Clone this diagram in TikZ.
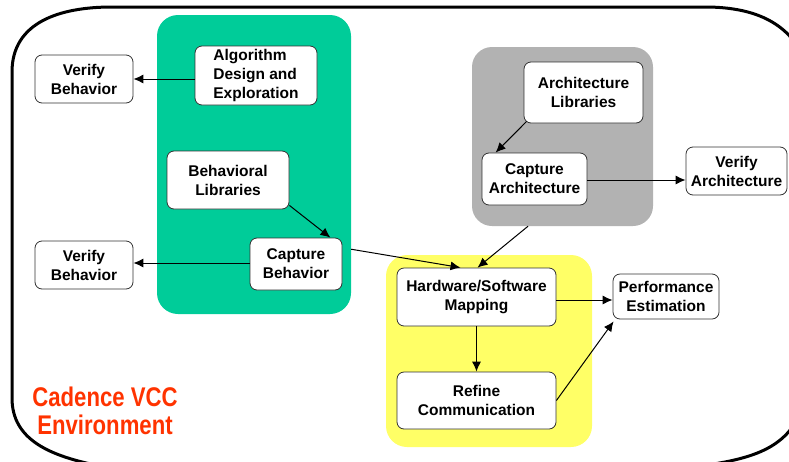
\documentclass[tikz,border=0pt]{standalone}
\usepackage{fontspec}
\setmainfont{Liberation Sans}
\newfontfamily\narrowfont[FakeStretch=0.82]{Liberation Sans}
\usetikzlibrary{arrows.meta,calc}
\definecolor{grpgreen}{RGB}{0,204,153}
\definecolor{grpgray}{RGB}{178,178,178}
\definecolor{grpyellow}{RGB}{255,255,102}
\definecolor{cadred}{RGB}{255,51,0}
\definecolor{boxline}{RGB}{50,50,50}
\tikzset{
  grp/.style={rounded corners=21pt, inner sep=0pt, draw=none},
  blk/.style={draw=boxline, line width=0.8pt, fill=white, rounded corners=7pt,
    inner sep=0pt, align=center, font=\bfseries\fontsize{15.5}{19}\selectfont},
  arr/.style={line width=1pt, -{Latex[length=10pt,width=9pt]}},
}
\begin{document}
\begin{tikzpicture}[x=1pt,y=-1pt]
\useasboundingbox (0,0) rectangle (789,461);
\begin{scope}
\clip (0,0) rectangle (789,461);
\draw[line width=3pt] (12,72) .. controls (12,22) and (60,7) .. (112,7)
  -- (705,7) .. controls (758,7) and (790,25) .. (805,60)
  -- (805,400) .. controls (792,445) and (760,458) .. (700,466)
  -- (100,466) .. controls (50,456) and (12,440) .. (12,398) -- cycle;
\end{scope}
% groups
\node[grp, fill=grpgreen, minimum width=194pt, minimum height=299pt] (greenG) at (254,164.5) {};
\node[grp, fill=grpgray, minimum width=181pt, minimum height=179pt, rounded corners=20pt] (grayG) at (562.5,136.5) {};
\node[grp, fill=grpyellow, minimum width=206pt, minimum height=192pt] (yelG) at (489,351) {};
% blocks
\node[blk, minimum width=98pt, minimum height=48pt] (vbA) at (84,79) {Verify\\Behavior};
\node[blk, minimum width=122pt, minimum height=59pt, align=left] (alg) at (256,75.5) {Algorithm\\Design and\\Exploration};
\node[blk, minimum width=122pt, minimum height=58pt] (beh) at (228,180) {Behavioral\\Libraries};
\node[blk, minimum width=92pt, minimum height=52pt] (capB) at (296,264) {Capture\\Behavior};
\node[blk, minimum width=98pt, minimum height=48pt] (vbB) at (84,265) {Verify\\Behavior};
\node[blk, minimum width=119pt, minimum height=61pt] (archL) at (583.5,92.5) {Architecture\\Libraries};
\node[blk, minimum width=105pt, minimum height=52pt] (capA) at (534.5,179) {Capture\\Architecture};
\node[blk, minimum width=101pt, minimum height=48pt] (vA) at (736.5,171) {Verify\\Architecture};
\node[blk, minimum width=159pt, minimum height=58pt] (hw) at (476.5,297) {Hardware/Software\\Mapping};
\node[blk, minimum width=159pt, minimum height=57pt] (ref) at (476.5,400.5) {Refine\\Communication};
\node[blk, minimum width=106pt, minimum height=45pt] (perf) at (666,296.5) {Performance\\Estimation};
\node[text=cadred, align=center, inner sep=0pt, font=\narrowfont\bfseries\fontsize{27}{28}\selectfont] (cad) at (105,411) {Cadence VCC\\Environment};
% connectors
\draw[arr] (alg.west |- vbA.east) -- (vbA.east);
\draw[arr] ($(beh.south east)+(0,-4)$) -- ($(capB.north east)+(-12,0)$);
\draw[arr] (capB.west |- 0,263) -- (vbB.east |- 0,263);
\draw[arr] ($(greenG.north east)!0.783!(greenG.south east)$) -- ($(hw.north)+(-16,0)$);
\draw[arr] ($(grayG.south west)!0.31!(grayG.south east)$) -- ($(hw.north)+(1,0)$);
\draw[arr] ($(archL.south west)+(3,-2)$) -- ($(capA.north west)+(14,0)$);
\draw[arr] (capA.east |- 0,180) -- (vA.west |- 0,180);
\draw[arr] (hw.east |- 0,300) -- (perf.west |- 0,300);
\draw[arr] (hw.south) -- (ref.north);
\draw[arr] (ref.east) -- ($(perf.south west)+(1,2)$);
\end{tikzpicture}
\end{document}
